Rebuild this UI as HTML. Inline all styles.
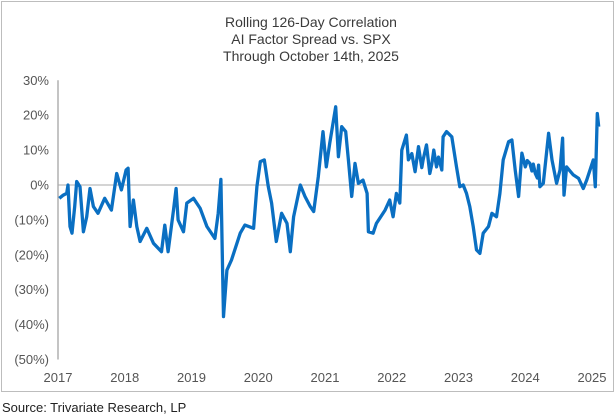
<!DOCTYPE html>
<html><head><meta charset="utf-8">
<style>
html,body{margin:0;padding:0;background:#fff;}
body{width:616px;height:415px;overflow:hidden;font-family:"Liberation Sans",sans-serif;}
</style></head>
<body>
<svg id="chart" width="616" height="415" xmlns="http://www.w3.org/2000/svg">
  <rect x="1.5" y="1.5" width="612" height="390" fill="#fff" stroke="#bdbdbd" stroke-width="1"/>
  <g font-size="14" fill="#3a3a3a" text-anchor="middle">
    <text x="311" y="27">Rolling 126-Day Correlation</text>
    <text x="311" y="44">AI Factor Spread vs. SPX</text>
    <text x="311" y="61">Through October 14th, 2025</text>
  </g>
  <g id="yaxis"></g>
  <g id="xaxis"></g>
  <g id="plot"></g>
  <text x="2" y="412" font-size="13" fill="#222">Source: Trivariate Research, LP</text>
</svg>
<script>
const yTicks = [30, 20, 10, 0, -10, -20, -30, -40, -50];
const yTickLabels = ["30%", "20%", "10%", "0%", "(10%)", "(20%)", "(30%)", "(40%)", "(50%)"];
const xTicks = [2017, 2018, 2019, 2020, 2021, 2022, 2023, 2024, 2025];
const dates = [2017.02,2017.08,2017.13,2017.15,2017.18,2017.21,2017.25,2017.28,2017.33,2017.38,2017.43,2017.48,2017.53,2017.60,2017.70,2017.80,2017.88,2017.95,2018.02,2018.05,2018.08,2018.13,2018.18,2018.23,2018.33,2018.43,2018.55,2018.60,2018.65,2018.73,2018.77,2018.80,2018.88,2018.93,2019.03,2019.13,2019.23,2019.35,2019.40,2019.44,2019.47,2019.48,2019.53,2019.60,2019.73,2019.80,2019.93,2019.98,2020.03,2020.09,2020.15,2020.20,2020.27,2020.35,2020.43,2020.48,2020.53,2020.63,2020.70,2020.78,2020.83,2020.90,2020.97,2021.02,2021.07,2021.16,2021.20,2021.25,2021.31,2021.35,2021.40,2021.45,2021.50,2021.57,2021.63,2021.65,2021.72,2021.77,2021.90,2021.97,2022.02,2022.07,2022.12,2022.15,2022.22,2022.25,2022.30,2022.35,2022.40,2022.45,2022.47,2022.52,2022.57,2022.60,2022.63,2022.67,2022.70,2022.75,2022.77,2022.82,2022.90,2022.97,2023.02,2023.07,2023.12,2023.17,2023.22,2023.27,2023.32,2023.37,2023.45,2023.50,2023.57,2023.62,2023.67,2023.75,2023.80,2023.85,2023.90,2023.95,2024.00,2024.03,2024.07,2024.10,2024.12,2024.15,2024.18,2024.20,2024.22,2024.27,2024.35,2024.40,2024.47,2024.52,2024.56,2024.58,2024.62,2024.72,2024.80,2024.87,2024.92,2025.02,2025.05,2025.08,2025.10];
const values = [-3.8,-2.9,-2.4,0,-11.9,-13.8,-6.2,1.0,-0.5,-13.4,-9.1,-1.0,-6.2,-8.1,-3.8,-7.2,3.3,-1.4,4.3,4.8,-11.9,-4.3,-11.9,-16.2,-12.4,-16.7,-19.1,-11.5,-19.1,-7.2,-1.0,-10.0,-13.4,-5.2,-3.8,-6.7,-11.9,-15.3,-8.1,1.6,-29.1,-37.7,-24.4,-21.5,-13.8,-11.5,-12.4,-0.5,6.7,7.2,-0.5,-5.2,-16.2,-8.1,-11.0,-19.1,-9.1,0,-3.3,-6.2,-7.6,2.4,15.3,5.2,11.9,22.4,8.1,16.7,15.3,7.2,-3.3,6.2,0.5,1.4,-2.4,-13.4,-13.8,-11.0,-7.2,-4.3,-9.1,-2.4,-5.2,10.0,14.3,7.2,9.0,3.8,11.0,5.0,7.2,11.5,3.3,6.0,10.0,5.2,8.0,4.3,13.8,15.3,13.8,5.2,-0.5,0,-2.4,-6.2,-11.9,-18.6,-19.6,-13.8,-11.9,-8.1,-9.1,-2.4,7.2,12.4,12.9,4.3,-3.3,9.1,5.2,7.0,6.2,4.0,6.0,3.3,2.0,5.7,-0.5,0.5,14.8,7.2,0.5,4.3,13.4,-2.9,5.2,2.9,1.9,-1.0,1.4,7.2,-0.5,20.5,16.7];

const NS = "http://www.w3.org/2000/svg";
const X0 = 58, X1 = 592, Y0 = 185, PER10 = 34.9;
function xScale(d){ return X0 + (d - 2017) / (2025 - 2017) * (X1 - X0); }
function yScale(v){ return Y0 - v / 10 * PER10; }

const yaxis = document.getElementById('yaxis');
const xaxis = document.getElementById('xaxis');
const plot = document.getElementById('plot');

yTicks.forEach((t, i) => {
  const tx = document.createElementNS(NS, 'text');
  tx.setAttribute('x', 49); tx.setAttribute('y', yScale(t) + 4.5);
  tx.setAttribute('text-anchor', 'end'); tx.setAttribute('font-size', '13'); tx.setAttribute('fill', '#555');
  tx.textContent = yTickLabels[i];
  
  
  yaxis.appendChild(tx);
});
const axLine = document.createElementNS(NS, 'line');
axLine.setAttribute('x1', X0); axLine.setAttribute('x2', X0);
axLine.setAttribute('y1', yScale(30)); axLine.setAttribute('y2', yScale(-50));
axLine.setAttribute('stroke', '#888'); axLine.setAttribute('stroke-width', '1');


yaxis.appendChild(axLine);

xTicks.forEach(t => {
  const tx = document.createElementNS(NS, 'text');
  tx.setAttribute('x', xScale(t)); tx.setAttribute('y', 382);
  tx.setAttribute('text-anchor', 'middle'); tx.setAttribute('font-size', '13'); tx.setAttribute('fill', '#555');
  tx.textContent = String(t);
  
  
  xaxis.appendChild(tx);
});

const zero = document.createElementNS(NS, 'line');
zero.setAttribute('x1', X0); zero.setAttribute('x2', 600);
zero.setAttribute('y1', yScale(0)); zero.setAttribute('y2', yScale(0));
zero.setAttribute('stroke', '#aaa'); zero.setAttribute('stroke-width', '1');


plot.appendChild(zero);

const path = document.createElementNS(NS, 'path');
path.setAttribute('d', dates.map((d, i) => (i ? 'L' : 'M') + xScale(d).toFixed(1) + ',' + yScale(values[i]).toFixed(1)).join(''));
path.setAttribute('fill', 'none'); path.setAttribute('stroke', '#0a6fc2');
path.setAttribute('stroke-width', '3.3'); path.setAttribute('stroke-linejoin', 'round');


plot.appendChild(path);
</script>
</body></html>
